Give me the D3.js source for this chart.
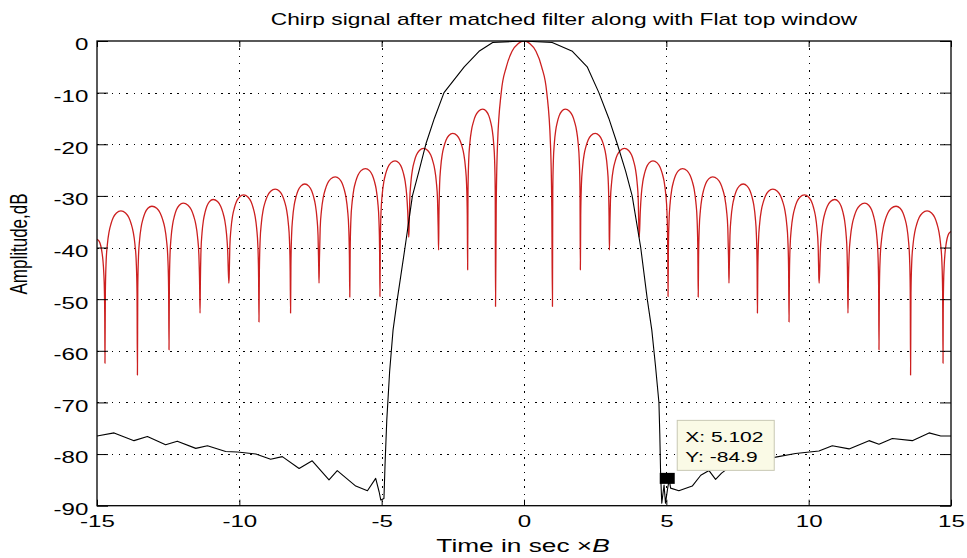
<!DOCTYPE html>
<html><head><meta charset="utf-8">
<script src="https://cdn.jsdelivr.net/npm/d3@7"></script>
<style>
html,body{margin:0;padding:0;background:#fff;}
svg{display:block;}
text{font-family:"Liberation Sans",Arial,sans-serif;fill:#000;}
</style></head><body>
<svg id="chart" width="967" height="558"></svg>
<script>
// ---------- data ----------
const titleText = "Chirp signal after matched filter along with Flat top window";
const xTicks = [-15, -10, -5, 0, 5, 10, 15];
const yTicks = [0, -10, -20, -30, -40, -50, -60, -70, -80, -90];

// red trace (with Flat top window): nulls, lobe peaks, edge values
const redNullX = [-14.72,-13.58,-12.47,-11.38,-10.37,-9.31,-8.2,-7.2,-6.12,-5.06,-4.05,-3.0,-1.98,-1.0,
                   1.0,1.98,3.0,4.05,5.06,6.12,7.2,8.2,9.31,10.37,11.38,12.47,13.58,14.72];
const redNullDb = [-62.4,-64.7,-59.8,-52.7,-46.9,-54.4,-52.7,-46.9,-49.6,-49.5,-38.0,-40.5,-44.3,-51.4,
                   -51.4,-44.3,-40.5,-38.0,-49.5,-49.6,-46.9,-52.7,-54.4,-46.9,-52.7,-59.8,-64.7,-62.4];
const redPeakX = [-14.16,-13.07,-11.97,-10.92,-9.85,-8.74,-7.7,-6.63,-5.57,-4.53,-3.53,-2.5,-1.45,0,
                   1.45,2.5,3.53,4.53,5.57,6.63,7.7,8.74,9.85,10.92,11.97,13.07,14.16];
const redPeakDb = [-32.9,-32.0,-31.4,-30.7,-29.8,-28.7,-27.7,-26.3,-24.7,-23.2,-20.8,-17.9,-13.2,0,
                   -13.2,-17.9,-20.8,-23.2,-24.7,-26.3,-27.7,-28.7,-29.8,-30.7,-31.4,-32.0,-32.9];
const redEdgeX = [-15, 15];
const redEdgeDb = [-38.4, -36.9];
// lobe outline: fraction of lobe width from the null -> dB below lobe peak
const lobeFrac = [0.012, 0.035, 0.075, 0.13, 0.19, 0.26, 0.36, 0.5];
const lobeDrop = [-16, -10, -6.5, -4.0, -2.5, -1.3, -0.4, 0];
const mainFrac = [0.012, 0.035, 0.1, 0.19, 0.29, 0.4, 0.5];
const mainDrop = [-32, -20, -10, -5, -2, -0.5, 0];

// black trace (no window)
const blackX = [-15.0,-14.4,-13.7,-13.23,-12.59,-12.18,-11.53,-11.12,-10.48,-10.07,-9.42,-8.9,-8.49,-7.9,-7.44,
  -6.85,-6.56,-5.91,-5.5,-5.21,-5.09,-5.03,-4.92,-4.88,-4.82,
  -4.72,-4.6,-4.45,-4.18,-3.92,-3.69,-3.45,-3.15,-2.81,-2.1,-1.58,-1.1,-0.05,0.99,1.7,2.22,2.63,2.98,3.28,3.57,3.8,4.1,4.33,4.49,4.62,4.74,
  4.77,4.8,4.84,4.92,4.97,5.05,5.102,5.15,5.44,5.91,6.21,6.5,6.73,6.94,7.4,7.9,8.4,8.84,9.54,10.36,10.83,11.42,12.12,12.47,12.94,13.64,14.23,14.64,15.0];
const blackDb = [-76.5,-75.9,-77.4,-76.6,-78.2,-77.5,-78.9,-78.4,-79.5,-79.6,-80.0,-81.0,-80.5,-82.8,-81.3,
  -85.0,-83.2,-86.2,-87.1,-84.7,-87.3,-88.9,-88.6,-81.8,-73.4,
  -64,-56,-50,-40,-30,-25.2,-20,-15,-10,-5,-2,-0.3,0,-0.3,-2,-5,-10,-15,-20,-25.2,-30,-40,-50,-56,-63,-70,
  -76,-84,-89.5,-86,-89.5,-86.5,-84.9,-86.6,-87.1,-86.2,-84.1,-83.2,-84.9,-83.7,-81.8,-82.4,-80.8,-80.6,-79.9,-79.4,-78.4,-79.0,-77.4,-78.1,-77.0,-77.4,-75.9,-76.5,-76.5];

// data tip
const tipX = 5.102, tipY = -84.9;
const tipLines = ["X: 5.102", "Y: -84.9"];

// ---------- layout ----------
const L = 97, R = 951, T = 41, B = 505.7;
const SX = 1.42; // horizontal stretch of the reference's text
const FONT = "Liberation Sans, Arial, sans-serif";

const svg = d3.select("#chart");
const x = d3.scaleLinear().domain([-15, 15]).range([L, R]);
const y = d3.scaleLinear().domain([-90, 0]).range([B, T]);
const fmt = d => String(d); // plain hyphen minus as in the reference

svg.append("defs").append("clipPath").attr("id", "clip")
  .append("rect").attr("x", L).attr("y", T).attr("width", R - L).attr("height", B - T);

// grid
const grid = svg.append("g").attr("stroke", "#000").attr("stroke-width", 1)
  .attr("stroke-dasharray", "1.5,5.8").attr("shape-rendering", "crispEdges");
grid.selectAll("line.gx").data(xTicks.slice(1, -1)).join("line")
  .attr("x1", d => Math.round(x(d)) + 0.5).attr("x2", d => Math.round(x(d)) + 0.5)
  .attr("y1", T).attr("y2", B);
grid.selectAll("line.gy").data(yTicks.slice(1, -1)).join("line")
  .attr("y1", d => Math.round(y(d)) + 0.5).attr("y2", d => Math.round(y(d)) + 0.5)
  .attr("x1", L).attr("x2", R);

// red trace points
function redPoints() {
  const pts = [];
  pts.push([redEdgeX[0], redEdgeDb[0]]);
  for (let i = lobeFrac.length - 2; i >= 0; i--) {
    const f = lobeFrac[i] / 0.5;
    const v = redEdgeDb[0] + lobeDrop[i];
    if (v > redNullDb[0] + 0.5) pts.push([redNullX[0] - f * (redNullX[0] - redEdgeX[0]), v]);
  }
  pts.push([redNullX[0], redNullDb[0]]);
  for (let k = 0; k < redPeakX.length; k++) {
    const xa = redNullX[k], da = redNullDb[k], xb = redNullX[k + 1], db = redNullDb[k + 1];
    const xp = redPeakX[k], dp = redPeakDb[k];
    const F = dp === 0 ? mainFrac : lobeFrac, D = dp === 0 ? mainDrop : lobeDrop;
    for (let i = 0; i < F.length; i++) {
      const v = dp + D[i];
      if (v > da + 0.5) pts.push([xa + F[i] / 0.5 * (xp - xa), v]);
    }
    for (let i = F.length - 2; i >= 0; i--) {
      const v = dp + D[i];
      if (v > db + 0.5) pts.push([xb - F[i] / 0.5 * (xb - xp), v]);
    }
    pts.push([xb, db]);
  }
  const n = redNullX.length - 1;
  for (let i = 0; i < lobeFrac.length - 1; i++) {
    const f = lobeFrac[i] / 0.5;
    const v = redEdgeDb[1] + lobeDrop[i];
    if (v > redNullDb[n] + 0.5) pts.push([redNullX[n] + f * (redEdgeX[1] - redNullX[n]), v]);
  }
  pts.push([redEdgeX[1], redEdgeDb[1]]);
  return pts;
}

const line = d3.line().x(d => x(d[0])).y(d => y(d[1])).curve(d3.curveMonotoneX);
const plot = svg.append("g").attr("clip-path", "url(#clip)");
plot.append("path").datum(redPoints())
  .attr("fill", "none").attr("stroke", "#cc1f1f").attr("stroke-width", 1.3)
  .attr("stroke-linejoin", "round").attr("d", line);
plot.append("path").datum(blackX.map((v, i) => [v, blackDb[i]]))
  .attr("fill", "none").attr("stroke", "#000").attr("stroke-width", 1.1)
  .attr("stroke-linejoin", "round").attr("d", d3.line().x(d => x(d[0])).y(d => y(d[1])));

// axes (ticks inside on all four sides)
function styleAxis(g) {
  g.select(".domain").remove();
  g.selectAll(".tick line").attr("stroke", "#000").attr("stroke-width", 1);
}
const fs = 17;
svg.append("g").attr("transform", `translate(0,${B})`)
  .call(d3.axisBottom(x).tickValues(xTicks).tickSize(-6).tickPadding(9).tickFormat(fmt))
  .call(styleAxis)
  .call(g => g.selectAll("text").attr("font-size", fs).attr("font-family", FONT)
    .attr("fill", "#000").attr("transform", `scale(${SX},1)`));
svg.append("g").attr("transform", `translate(0,${T})`)
  .call(d3.axisTop(x).tickValues(xTicks).tickSize(-6).tickFormat(""))
  .call(styleAxis);
svg.append("g").attr("transform", `translate(${L},0)`)
  .call(d3.axisLeft(y).tickValues(yTicks).tickSize(-11).tickFormat(fmt))
  .call(styleAxis)
  .call(g => g.selectAll("text").attr("font-size", fs).attr("font-family", FONT)
    .attr("fill", "#000").attr("x", -8.7 / SX).attr("dy", "0.52em").attr("transform", `scale(${SX},1)`));
svg.append("g").attr("transform", `translate(${R},0)`)
  .call(d3.axisRight(y).tickValues(yTicks).tickSize(-11).tickFormat(""))
  .call(styleAxis);

// frame
svg.append("rect").attr("x", L).attr("y", T).attr("width", R - L).attr("height", B - T)
  .attr("fill", "none").attr("stroke", "#000").attr("stroke-width", 1.3);

// title and labels
svg.append("text").attr("transform", `translate(564,25) scale(${SX},1)`)
  .attr("text-anchor", "middle").attr("font-size", 16).text(titleText);
const xl = svg.append("text").attr("transform", `translate(523,552) scale(${SX},1)`)
  .attr("text-anchor", "middle").attr("font-size", 18.5);
xl.append("tspan").text("Time in sec \u00d7");
xl.append("tspan").attr("font-style", "italic").text("B");
svg.append("text").attr("transform", `translate(27,244) rotate(-90) scale(1,${SX})`)
  .attr("text-anchor", "middle").attr("font-size", 17).text("Amplitude,dB");

// data tip
const px = x(tipX), py = y(tipY);
svg.append("rect").attr("x", px - 9.5).attr("y", py - 6.5).attr("width", 15).attr("height", 11).attr("fill", "#000");
const tip = svg.append("g").attr("transform", `translate(${px + 8},${py - 59})`);
tip.append("rect").attr("width", 97).attr("height", 50).attr("fill", "#fafae6").attr("stroke", "#c8c8b4").attr("stroke-width", 1);
tip.selectAll("text").data(tipLines).join("text")
  .attr("transform", (d, i) => `translate(8,${22 + i * 20}) scale(1.4,1)`)
  .attr("font-size", 15).attr("font-family", FONT).text(d => d);
</script>
</body></html>
